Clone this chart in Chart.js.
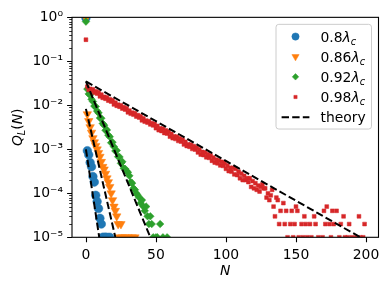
<!DOCTYPE html>
<html>
<head>
<meta charset="utf-8">
<script src="https://cdn.jsdelivr.net/npm/chart.js@4"></script>
<style>
html,body{margin:0;padding:0;background:#fff;}
</style>
</head>
<body>
<canvas id="myChart" width="391" height="290"></canvas>
<script>
'use strict';

// series labels (multiples of lambda_c) and colours
let lambdaNames = ['0.8', '0.86', '0.92', '0.98'];
let theoryName = 'theory';
let colors = ['#1f77b4', '#ff7f0e', '#2ca02c', '#d62728'];

// measured Q_L(N), N = index for the main runs, tails listed with their N
let blueQ = [0.97, 9.3e-4, 7.5e-4, 5e-4, 4e-4, 2.4e-4, 1.8e-4, 9e-5, 6.5e-5, 4.5e-5, 2.7e-5, 2e-5];
let blueTailN = [12, 13, 14, 15, 17];
let blueTailQ = [1e-5, 1e-5, 1e-5, 1e-5, 1e-5];

let orangeQ = [0.95, 6.3e-3, 4.4e-3, 3.2e-3, 2.4e-3, 1.8e-3, 1.45e-3, 1.2e-3, 1.0e-3, 8.3e-4, 6.8e-4,
  5.2e-4, 4.0e-4, 3.5e-4, 2.8e-4, 2.2e-4, 1.8e-4, 1.4e-4, 1.0e-4, 7e-5, 5e-5, 4e-5];
let orangeTailN = [22, 23, 24, 25, 26, 28, 30, 33, 35];
let orangeTailQ = [3e-5, 2e-5, 1e-5, 2e-5, 1e-5, 1e-5, 1e-5, 1e-5, 1e-5];

let greenQ = [0.8, 0.0234, 0.0182, 0.0174, 0.0137, 0.0122, 0.0096, 0.0094, 0.0074, 0.00675, 0.00517,
  0.00508, 0.00386, 0.00354, 0.0027, 0.00276, 0.00209, 0.00193, 0.00141, 0.00145, 0.00115,
  0.00092, 0.00094, 0.00068, 0.00067, 0.00048, 0.00052, 0.00037, 0.00036, 0.00032, 0.0003,
  0.00025, 0.00018, 0.00017, 0.00013, 0.00012, 0.0001, 9e-5, 8e-5, 6e-5, 7e-5,
  5e-5, 4e-5, 5e-5, 3e-5, 2e-5, 3e-5, 2e-5];
let greenTailN = [48, 50, 51, 53, 55, 58];
let greenTailQ = [1e-5, 1e-5, 1e-5, 2e-5, 1e-5, 1e-5];

let redQ = [0.31,
  0.0265, 0.0225, 0.0237, 0.0214, 0.0231, 0.0195, 0.0208, 0.0185, 0.0199, 0.0160,
  0.0175, 0.0148, 0.0156, 0.0141, 0.0152, 0.0128, 0.0137, 0.0122, 0.0131, 0.0105,
  0.0115, 0.00978, 0.0103, 0.00929, 0.0100, 0.00846, 0.00905, 0.00803, 0.00865, 0.00694,
  0.00759, 0.00645, 0.00679, 0.00613, 0.00661, 0.00558, 0.00597, 0.00529, 0.0057, 0.00457,
  0.00501, 0.00425, 0.00448, 0.00404, 0.00436, 0.00368, 0.00394, 0.0035, 0.00376, 0.00302,
  0.0034, 0.00272, 0.00299, 0.00261, 0.00293, 0.00235, 0.0027, 0.00228, 0.00252, 0.00194,
  0.00224, 0.00179, 0.00197, 0.00172, 0.00193, 0.00155, 0.00177, 0.0015, 0.00166, 0.00129,
  0.00148, 0.00119, 0.0013, 0.00114, 0.00128, 0.00102, 0.00118, 0.00099, 0.0011, 0.00085,
  0.00099, 0.00076, 0.00087, 0.00074, 0.00085, 0.00066, 0.00078, 0.00064, 0.00073, 0.00055,
  0.00065, 0.0005, 0.00058, 0.00048, 0.00056, 0.00043, 0.00052, 0.00042, 0.00049, 0.00036,
  0.00043, 0.00032, 0.00038, 0.00031, 0.00038, 0.00027, 0.00036, 0.00026, 0.00031, 0.00022,
  0.00028, 0.0002, 0.00025, 0.0002, 0.00022, 0.00018, 0.00022, 0.00014, 0.00019, 0.00013,
  0.00017, 0.00012, 0.00015, 0.00011, 0.00014];
let redTailN = [126, 127, 128, 129, 130, 131, 132, 133, 134, 135, 136, 137, 138, 139, 141, 142, 143, 144,
  146, 147, 148, 149, 150, 151, 152, 154, 155, 156, 157, 158, 160, 161, 163, 164, 166, 169, 170,
  171, 172, 174, 175, 176, 177, 179, 181, 182, 184, 185, 187, 188, 190, 193, 195, 196, 198, 199];
let redTailQ = [1.6e-4, 1.3e-4, 1.3e-4, 8e-5, 1e-4, 7e-5, 9e-5, 1.2e-4, 5e-5, 3e-5, 8e-5, 7e-5, 2e-5, 4e-5, 6e-5, 2e-5, 4e-5, 1e-5,
  2e-5, 4e-5, 1e-5, 2e-5, 5e-5, 4e-5, 1e-5, 2e-5, 1e-5, 3e-5, 2e-5, 1e-5, 2e-5, 1e-5, 3e-5, 2e-5, 1e-5, 1e-5, 4e-5,
  2e-5, 5e-5, 2e-5, 1e-5, 4e-5, 2e-5, 4e-5, 1e-5, 2e-5, 3e-5, 1e-5, 1e-5, 2e-5, 1e-5, 1e-5, 3e-5, 1e-5, 1e-5, 2e-5];

// theory lines (straight on the log axis): start at N=0, end where they hit 1e-5
let theoryStartQ = [1e-3, 8.3e-3, 3.5e-2, 3.5e-2];
let theoryEndN = [9.5, 21, 46, 196];
let theoryEndQ = 1e-5;

// axes
let xTicks = [0, 50, 100, 150, 200];
let yTicks = [1e-5, 1e-4, 1e-3, 1e-2, 1e-1, 1];
let yTickLabels = ['10⁻⁵', '10⁻⁴', '10⁻³', '10⁻²', '10⁻¹', '10⁰'];

const FS = 13.9;
const FONT = "'DejaVu Sans'";

function toPoints(q, tailN, tailQ) {
  let pts = q.map((v, i) => ({x: i, y: v}));
  for (let i = 0; i < tailN.length; i++) pts.push({x: tailN[i], y: tailQ[i]});
  return pts;
}

let markers = [
  {style: 'circle', radius: 4.3, rotation: 0},
  {style: 'triangle', radius: 4.9, rotation: 180},
  {style: 'rectRot', radius: 3.8, rotation: 0},
  {style: 'rect', radius: 2.7, rotation: 0}
];
let seriesPoints = [
  toPoints(blueQ, blueTailN, blueTailQ),
  toPoints(orangeQ, orangeTailN, orangeTailQ),
  toPoints(greenQ, greenTailN, greenTailQ),
  toPoints(redQ, redTailN, redTailQ)
];

let datasets = [];
for (let i = 0; i < 4; i++) {
  datasets.push({
    label: lambdaNames[i],
    data: seriesPoints[i],
    pointStyle: markers[i].style,
    pointRadius: markers[i].radius,
    rotation: markers[i].rotation,
    backgroundColor: colors[i],
    borderColor: colors[i],
    pointBorderWidth: 0.5,
    showLine: false,
    order: 4 - i,
    clip: 0
  });
}
for (let i = 0; i < 4; i++) {
  datasets.push({
    label: theoryName,
    data: [{x: 0, y: theoryStartQ[i]}, {x: theoryEndN[i], y: theoryEndQ}],
    showLine: true,
    pointRadius: 0,
    borderColor: '#000',
    borderWidth: 2,
    borderDash: [7.4, 3.2],
    order: 0,
    clip: 0
  });
}

// text pieces: [text, 'rm' | 'it' | 'sub']
function drawMath(ctx, parts, x, y, align) {
  let widths = parts.map(p => {
    ctx.font = fontFor(p[1]);
    return ctx.measureText(p[0]).width;
  });
  let total = widths.reduce((a, b) => a + b, 0);
  let cx = align === 'center' ? x - total / 2 : x;
  ctx.textBaseline = 'alphabetic';
  ctx.textAlign = 'left';
  parts.forEach((p, i) => {
    ctx.font = fontFor(p[1]);
    ctx.fillText(p[0], cx, p[1] === 'sub' ? y + 0.22 * FS : y);
    cx += widths[i];
  });
}
function fontFor(kind) {
  if (kind === 'it') return 'italic ' + FS + 'px ' + FONT;
  if (kind === 'sub') return 'italic ' + (FS * 0.7).toFixed(1) + 'px ' + FONT;
  return FS + 'px ' + FONT;
}

const decorations = {
  id: 'decorations',
  afterDatasetsDraw(chart) {
    const ctx = chart.ctx, a = chart.chartArea;
    const xs = chart.scales.x, ys = chart.scales.y;
    ctx.save();
    ctx.strokeStyle = '#000';
    ctx.lineWidth = 1.1;
    ctx.setLineDash([]);
    ctx.strokeRect(a.left, a.top, a.right - a.left, a.bottom - a.top);
    ctx.beginPath();
    xTicks.forEach(v => {
      const p = Math.round(xs.getPixelForValue(v)) + 0.5;
      ctx.moveTo(p, a.bottom); ctx.lineTo(p, a.bottom + 4.9);
    });
    yTicks.forEach(v => {
      const p = Math.round(ys.getPixelForValue(v)) + 0.5;
      ctx.moveTo(a.left - 4.9, p); ctx.lineTo(a.left, p);
    });
    ctx.stroke();
    ctx.lineWidth = 0.8;
    ctx.beginPath();
    for (let d = 0; d < yTicks.length - 1; d++) {
      for (let m = 2; m <= 9; m++) {
        const p = Math.round(ys.getPixelForValue(m * yTicks[d])) + 0.5;
        ctx.moveTo(a.left - 2.8, p); ctx.lineTo(a.left, p);
      }
    }
    ctx.stroke();
    ctx.restore();
  },
  afterDraw(chart) {
    const ctx = chart.ctx, a = chart.chartArea;
    ctx.save();
    ctx.fillStyle = '#000';
    // axis titles
    drawMath(ctx, [['N', 'it']], (a.left + a.right) / 2, 275, 'center');
    ctx.save();
    ctx.translate(22, (a.top + a.bottom) / 2);
    ctx.rotate(-Math.PI / 2);
    drawMath(ctx, [['Q', 'it'], ['L', 'sub'], ['(', 'rm'], ['N', 'it'], [')', 'rm']], 0, 0, 'center');
    ctx.restore();

    // legend box
    const lx = a.right - 7, ly = a.top + 7, lw = 95.5, lh = 104.7;
    ctx.beginPath();
    ctx.roundRect(lx - lw, ly, lw, lh, 2.8);
    ctx.fillStyle = 'rgba(255,255,255,0.8)';
    ctx.fill();
    ctx.strokeStyle = '#cccccc';
    ctx.lineWidth = 1;
    ctx.stroke();
    const hx = lx - lw + 5.6 + 13.9;
    const tx = lx - lw + 5.6 + 27.8 + 11.1;
    for (let i = 0; i < 5; i++) {
      const cy = ly + 5.6 + 6.6 + i * 20.15;
      if (i < 4) {
        ctx.fillStyle = colors[i];
        ctx.strokeStyle = colors[i];
        ctx.lineWidth = 0.5;
        Chart.helpers.drawPoint(ctx, {pointStyle: markers[i].style, radius: markers[i].radius * 0.85,
          rotation: markers[i].rotation, borderWidth: 0.5}, hx, cy);
        ctx.fillStyle = '#000';
        drawMath(ctx, [[lambdaNames[i], 'rm'], ['λ', 'it'], ['c', 'sub']], tx, cy + 5, 'left');
      } else {
        ctx.strokeStyle = '#000';
        ctx.lineWidth = 2;
        ctx.setLineDash([7.4, 3.2]);
        ctx.beginPath();
        ctx.moveTo(hx - 13.9, cy); ctx.lineTo(hx + 13.9, cy);
        ctx.stroke();
        ctx.setLineDash([]);
        ctx.fillStyle = '#000';
        drawMath(ctx, [[theoryName, 'rm']], tx, cy + 5, 'left');
      }
    }
    ctx.restore();
  }
};

let ctx = document.getElementById('myChart');
let myChart = new Chart(ctx, {
  type: 'scatter',
  data: {datasets: datasets},
  options: {
    responsive: false,
    animation: false,
    devicePixelRatio: 1,
    layout: {padding: {top: 15, right: 12.5, left: 0, bottom: 0}},
    plugins: {legend: {display: false}, tooltip: {enabled: false}},
    scales: {
      x: {
        type: 'linear', min: -9.95, max: 208.95,
        afterBuildTicks: s => { s.ticks = xTicks.map(v => ({value: v})); },
        ticks: {color: '#000', font: {family: FONT, size: FS}, padding: 10, maxRotation: 0, autoSkip: false},
        grid: {display: false, drawTicks: false},
        border: {display: false},
        afterFit: s => { s.height = 52.7; }
      },
      y: {
        type: 'logarithmic', min: 1e-5, max: 1,
        afterBuildTicks: s => { s.ticks = yTicks.map(v => ({value: v})); },
        ticks: {
          color: '#000', font: {family: FONT, size: FS}, padding: 9, autoSkip: false,
          callback: (v, i) => yTickLabels[i]
        },
        grid: {display: false, drawTicks: false},
        border: {display: false},
        afterFit: s => { s.width = 72; }
      }
    }
  },
  plugins: [decorations]
});
</script>
</body>
</html>
